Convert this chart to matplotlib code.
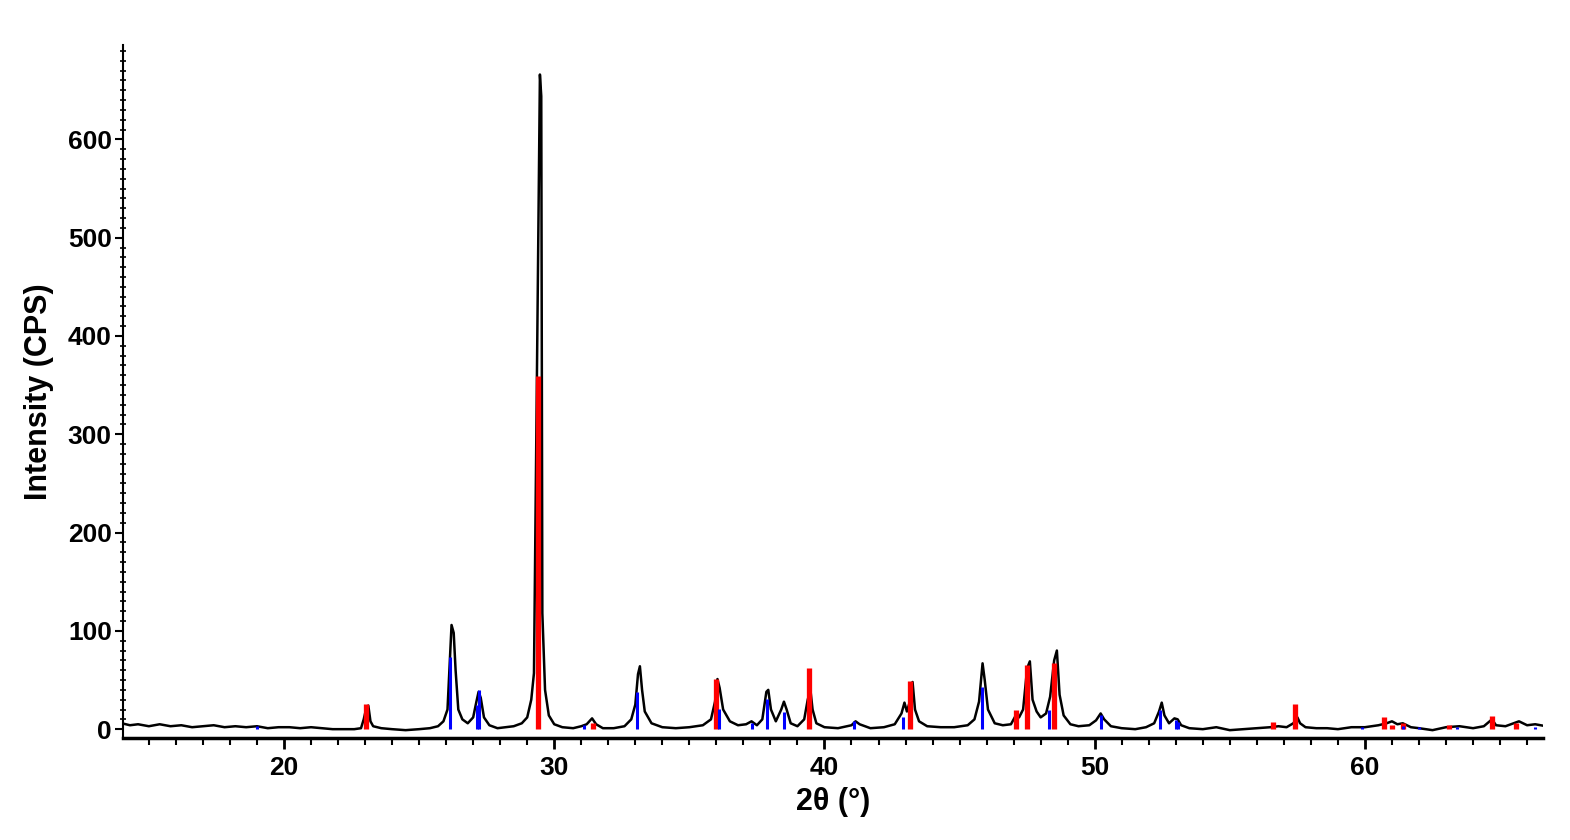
import numpy as np
import matplotlib
matplotlib.use("Agg")
import matplotlib.pyplot as plt
from matplotlib.ticker import MultipleLocator

plt.rcParams['font.family'] = ['Liberation Sans', 'DejaVu Sans']
plt.rcParams['font.weight'] = 'bold'

two_theta = [14.0, 14.3, 14.6, 15.0, 15.4, 15.8, 16.2, 16.6, 17.0, 17.4, 17.8, 18.2, 18.6, 19.0,
             19.4, 19.8, 20.2, 20.6, 21.0, 21.4, 21.8, 22.2, 22.6, 22.85, 22.95, 23.05, 23.12,
             23.2, 23.3, 23.6, 24.0, 24.5, 25.0, 25.4, 25.7, 25.9, 26.05, 26.12, 26.2, 26.28,
             26.35, 26.45, 26.6, 26.8, 27.0, 27.12, 27.2, 27.28, 27.4, 27.6, 27.9, 28.2, 28.5,
             28.8, 29.0, 29.15, 29.25, 29.47, 29.52, 29.56, 29.66, 29.8, 30.0, 30.3, 30.7,
             31.0, 31.2, 31.4, 31.55, 31.8, 32.2, 32.6, 32.85, 33.0, 33.1, 33.17, 33.25, 33.35,
             33.6, 34.0, 34.5, 35.0, 35.5, 35.8, 35.95, 36.04, 36.12, 36.25, 36.5, 36.8, 37.1,
             37.3, 37.5, 37.7, 37.85, 37.92, 38.02, 38.2, 38.4, 38.5, 38.6, 38.75, 39.0, 39.25,
             39.38, 39.48, 39.56, 39.7, 40.0, 40.5, 41.0, 41.15, 41.3, 41.7, 42.2, 42.6, 42.85,
             42.96, 43.05, 43.18, 43.26, 43.35, 43.5, 43.8, 44.3, 44.8, 45.3, 45.55, 45.72,
             45.85, 45.93, 46.05, 46.3, 46.6, 46.9, 47.1, 47.2, 47.35, 47.5, 47.6, 47.7, 47.85,
             48.0, 48.2, 48.35, 48.5, 48.6, 48.7, 48.85, 49.1, 49.4, 49.8, 50.05, 50.22, 50.35,
             50.6, 51.0, 51.5, 51.9, 52.2, 52.38, 52.48, 52.58, 52.75, 52.95, 53.07, 53.2, 53.5,
             54.0, 54.5, 55.0, 55.5, 56.0, 56.5, 56.8, 57.1, 57.35, 57.5, 57.6, 57.8, 58.2, 58.6,
             59.0, 59.5, 60.0, 60.5, 60.8, 61.0, 61.2, 61.4, 61.7, 62.0, 62.5, 63.0, 63.5, 64.0,
             64.4, 64.7, 64.85, 65.2, 65.5, 65.7, 66.0, 66.3, 66.7]
counts = [6, 4, 5, 3, 5, 3, 4, 2, 3, 4, 2, 3, 2, 3,
          1, 2, 2, 1, 2, 1, 0, 0, 0, 1, 10, 22, 24,
          8, 3, 1, 0, -1, 0, 1, 3, 8, 20, 60, 106, 98,
          60, 20, 10, 6, 12, 28, 38, 32, 12, 4, 1, 2, 3,
          6, 12, 30, 57, 666, 644, 118, 40, 14, 5, 2, 1,
          3, 5, 11, 5, 1, 1, 3, 10, 25, 56, 64, 40, 18,
          6, 2, 1, 2, 4, 10, 28, 51, 42, 20, 8, 4, 5,
          8, 4, 10, 38, 40, 20, 8, 20, 28, 20, 6, 3, 10,
          30, 40, 20, 6, 2, 1, 4, 8, 5, 1, 2, 5, 16,
          27, 18, 30, 48, 20, 8, 3, 2, 2, 4, 10, 28,
          67, 50, 20, 6, 4, 5, 15, 12, 20, 62, 69, 30, 18,
          12, 16, 33, 70, 80, 35, 14, 5, 3, 4, 9, 16, 10,
          3, 1, 0, 2, 6, 18, 27, 14, 6, 11, 10, 4, 1,
          0, 2, -1, 0, 1, 2, 3, 2, 6, 12, 6, 2, 1, 1,
          0, 2, 2, 4, 6, 8, 5, 6, 2, 1, -1, 2, 3, 1,
          3, 10, 4, 3, 6, 8, 4, 5, 3]

# reference pattern sticks
red_pos = [23.05, 29.39, 31.42, 36.0, 39.42, 43.18, 47.1, 47.48, 48.5, 56.6, 57.42,
           60.7, 61.0, 61.4, 63.1, 64.7, 65.6]
red_int = [26, 359, 6, 51, 62, 49, 20, 65, 67, 7, 26, 12, 4, 6, 4, 13, 6]
blue_pos = [19.0, 26.15, 27.15, 27.22, 31.1, 33.07, 36.1, 37.3, 37.88, 38.5, 41.1, 42.9,
            45.82, 48.3, 50.25, 52.42, 53.0, 53.1, 59.9, 61.4, 62.0, 63.4, 66.3]
blue_int = [3, 73, 25, 40, 4, 38, 21, 6, 31, 17, 8, 12, 43, 20, 14, 20, 9, 7, 2, 3, 2, 2, 2]

fig = plt.figure(figsize=(15.7, 8.4), dpi=100)
ax = fig.add_axes([0.0783, 0.1214, 0.9047, 0.825])

ax.plot(two_theta, counts, color='black', lw=1.8, zorder=2)
ax.vlines(red_pos, 0, red_int, color='#ff0000', lw=3.8, zorder=3)
ax.vlines(blue_pos, 0, blue_int, color='#0000ff', lw=2.2, zorder=3)

ax.set_xlim(14.04, 66.6)
ax.set_ylim(-9, 696)

for s in ['top', 'right']:
    ax.spines[s].set_visible(False)
ax.spines['left'].set_linewidth(1.5)
ax.spines['bottom'].set_linewidth(2.5)

ax.xaxis.set_major_locator(MultipleLocator(10))
ax.xaxis.set_minor_locator(MultipleLocator(1))
ax.yaxis.set_major_locator(MultipleLocator(100))
ax.yaxis.set_minor_locator(MultipleLocator(10))
ax.tick_params(axis='x', which='major', direction='out', length=8, width=2, labelsize=19, pad=5)
ax.tick_params(axis='x', which='minor', direction='out', length=5, width=1.5)
ax.tick_params(axis='y', which='major', direction='out', length=6, width=1.5, labelsize=19, pad=2)
ax.tick_params(axis='y', which='minor', direction='inout', length=4, width=1.2)

ax.set_xlabel('2θ (°)', fontsize=22, fontweight='bold', labelpad=5)
ax.set_ylabel('Intensity (CPS)', fontsize=22, fontweight='bold', labelpad=10)

fig.savefig('out.png', dpi=100)
